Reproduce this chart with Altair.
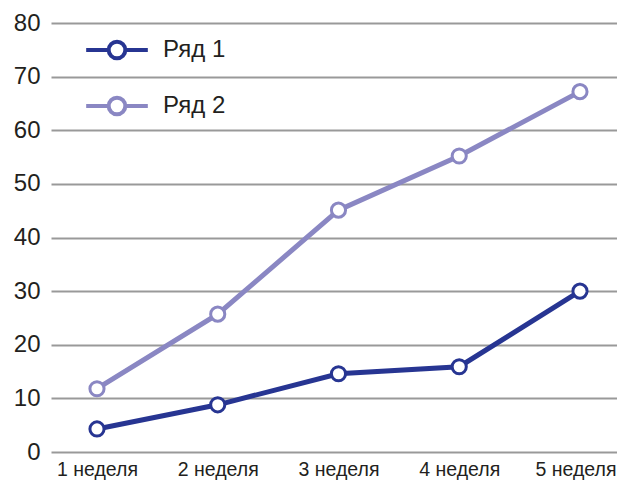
import altair as alt
import pandas as pd

weeks = ["1 неделя", "2 неделя", "3 неделя", "4 неделя", "5 неделя"]
series_names = ["Ряд 1", "Ряд 2"]
row1 = [4.3, 8.8, 14.6, 15.9, 30.0]
row2 = [11.8, 25.7, 45.1, 55.2, 67.2]
colors = ["#273592", "#8a87c3"]

rows = []
for w, v in zip(weeks, row1):
    rows.append({"week": w, "series": series_names[0], "value": v})
for w, v in zip(weeks, row2):
    rows.append({"week": w, "series": series_names[1], "value": v})
df = pd.DataFrame(rows)

FONT = "Liberation Sans"
legend_path = ("M-1,0L-0.27,0M1,0L0.27,0M0.27,0"
               "A0.27,0.27,0,1,1,-0.27,0A0.27,0.27,0,1,1,0.27,0Z")

x = alt.X("week:N", sort=weeks, title=None,
          scale=alt.Scale(type="point", padding=0.3437, align=0.554),
          axis=alt.Axis(labelAngle=0, labelFontSize=19.5, labelPadding=8,
                        labelColor="#231f20", labelFont=FONT,
                        labelFlush=40, labelFlushOffset=36,
                        domain=False, ticks=False, grid=False))
y = alt.Y("value:Q", title=None,
          scale=alt.Scale(domain=[0, 80], nice=False),
          axis=alt.Axis(values=list(range(0, 81, 10)), labelFontSize=24,
                        labelPadding=11, labelColor="#231f20", labelFont=FONT,
                        domain=False, ticks=False, grid=True,
                        gridColor="#999999", gridWidth=2))
color = alt.Color("series:N", sort=series_names,
                  scale=alt.Scale(domain=series_names, range=colors),
                  legend=alt.Legend(title=None, orient="none", legendX=33, legendY=-6,
                                    symbolType=legend_path, symbolSize=3800,
                                    symbolStrokeWidth=4, symbolFillColor="white",
                                    labelFontSize=24, labelFont=FONT,
                                    labelColor="#231f20", labelOffset=13,
                                    rowPadding=6, padding=0))

lines = alt.Chart(df).mark_line(strokeWidth=5).encode(x=x, y=y, color=color)
points = alt.Chart(df).mark_point(filled=False, fill="white", fillOpacity=1,
                                  opacity=1, size=200, strokeWidth=3).encode(
    x=x, y=y, color=color)

chart = alt.layer(lines, points).properties(
    width=566, height=429,
    autosize=alt.AutoSizeParams(type="none"),
    padding={"left": 43, "top": 15, "right": 0, "bottom": 28},
).configure_view(stroke=None)

chart.save("out.html", embed_options={"renderer": "svg", "actions": False})
